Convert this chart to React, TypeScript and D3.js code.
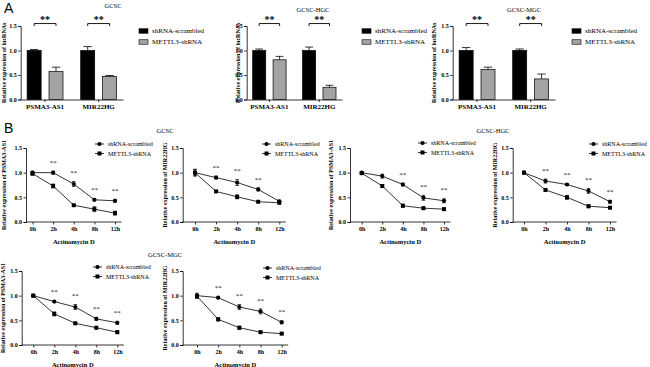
import React, { useRef, useEffect } from 'react'
import * as d3 from 'd3'

// ---- data ----
const genes = ['PSMA3-AS1', 'MIR22HG']
const seriesNames = ['shRNA-scrambled', 'METTL3-shRNA']
const yTicks = [0, 0.5, 1.0, 1.5]

const barTitles = ['GCSC', 'GCSC-HGC', 'GCSC-MGC']
const scrambledBar = [[1.0, 1.0], [1.0, 1.0], [1.0, 1.0]]
const scrambledBarErr = [[0.02, 0.08], [0.03, 0.07], [0.06, 0.03]]
const mettlBar = [[0.57, 0.47], [0.81, 0.25], [0.61, 0.42]]
const mettlBarErr = [[0.09, 0.02], [0.07, 0.04], [0.05, 0.1]]

const timeLabels = ['0h', '2h', '4h', '8h', '12h']
const lineGenes = ['PSMA3-AS1', 'MIR22HG', 'PSMA3-AS1', 'MIR22HG', 'PSMA3-AS1', 'MIR22HG']
const lineTitles = ['GCSC', 'GCSC-HGC', 'GCSC-MGC']
const scrambledLine = [
  [1.0, 1.0, 0.77, 0.45, 0.43],
  [1.0, 0.9, 0.8, 0.66, 0.42],
  [1.0, 0.93, 0.76, 0.49, 0.43],
  [1.0, 0.83, 0.76, 0.63, 0.41],
  [1.0, 0.88, 0.77, 0.53, 0.45],
  [1.0, 0.96, 0.77, 0.68, 0.46],
]
const scrambledLineErr = [
  [0.03, 0.03, 0.05, 0.02, 0.03],
  [0.07, 0.03, 0.06, 0.03, 0.02],
  [0.02, 0.04, 0.03, 0.05, 0.04],
  [0.02, 0.04, 0.02, 0.05, 0.03],
  [0.02, 0.02, 0.05, 0.03, 0.03],
  [0.05, 0.02, 0.05, 0.05, 0.03],
]
const mettlLine = [
  [0.98, 0.73, 0.34, 0.26, 0.18],
  [1.0, 0.62, 0.51, 0.41, 0.39],
  [0.99, 0.73, 0.33, 0.28, 0.26],
  [1.0, 0.65, 0.5, 0.32, 0.29],
  [1.0, 0.63, 0.44, 0.35, 0.26],
  [0.99, 0.52, 0.35, 0.26, 0.23],
]
const mettlLineErr = [
  [0.03, 0.04, 0.02, 0.05, 0.04],
  [0.06, 0.02, 0.04, 0.01, 0.02],
  [0.02, 0.03, 0.03, 0.02, 0.02],
  [0.02, 0.02, 0.04, 0.03, 0.02],
  [0.02, 0.04, 0.02, 0.02, 0.03],
  [0.04, 0.03, 0.03, 0.02, 0.02],
]
// time points marked "**"
const lineSig = [
  ['2h', '4h', '8h', '12h'],
  ['2h', '4h', '8h'],
  ['4h', '8h', '12h'],
  ['2h', '4h', '8h', '12h'],
  ['2h', '4h', '8h', '12h'],
  ['2h', '4h', '8h', '12h'],
]

// ---- layout ----
const serif = '"Liberation Serif", "Times New Roman", serif'
const grey = '#a3a3a3'

const barLayout = [
  { x0: 20.7, x1: 123, yTop: 26, yBot: 99.5, labX: 4, legX: 139, title: [113, 6] },
  { x0: 246.7, x1: 342, yTop: 26, yBot: 99.5, labX: 237.5, legX: 362, title: [313, 9.5] },
  { x0: 452.7, x1: 555, yTop: 26, yBot: 99.5, labX: 434, legX: 572, title: [524, 9.5] },
]
const lineLayout = [
  { x0: 26, p0: 32.5, p1: 115, yTop: 148, yBot: 222, labX: 4, legX: 95, legY: 144 },
  { x0: 182.7, p0: 195, p1: 279.3, yTop: 148, yBot: 222, labX: 164.5, legX: 262, legY: 144 },
  { x0: 350, p0: 361.7, p1: 444, yTop: 148, yBot: 222, labX: 331, legX: 418, legY: 143 },
  { x0: 512.7, p0: 524, p1: 610, yTop: 148, yBot: 222, labX: 495, legX: 589, legY: 144 },
  { x0: 21.7, p0: 33.3, p1: 117.3, yTop: 271, yBot: 345, labX: 3, legX: 93, legY: 267 },
  { x0: 182.7, p0: 197, p1: 281.7, yTop: 271, yBot: 345, labX: 165, legX: 263, legY: 268 },
]
const lineTitlePos = [[165, 131], [493, 131], [165, 255]]

function styleAxis(g, size, bold = true) {
  g.selectAll('path, line').attr('stroke', '#000').attr('stroke-width', 0.8)
  g.selectAll('text')
    .attr('font-family', serif)
    .attr('font-size', size)
    .attr('font-weight', bold ? 'bold' : 'normal')
    .attr('fill', '#000')
}

function yLabel(svg, x, y, text) {
  svg.append('text')
    .attr('transform', `translate(${x},${y}) rotate(-90)`)
    .attr('text-anchor', 'middle')
    .attr('dy', '0.35em')
    .attr('font-family', serif)
    .attr('font-size', 6)
    .attr('font-weight', 'bold')
    .text(text)
}

function drawBarPanel(svg, i) {
  const lay = barLayout[i]
  const g = svg.append('g')
  const y = d3.scaleLinear().domain([0, 1.5]).range([lay.yBot, lay.yTop])
  const x = d3.scaleBand().domain(genes).range([lay.x0, lay.x1]).paddingInner(0.33).paddingOuter(0.12)
  const xs = d3.scaleBand().domain(seriesNames).range([0, x.bandwidth()]).paddingInner(0.36)

  g.append('g').attr('transform', `translate(${lay.x0},0)`)
    .call(d3.axisLeft(y).tickValues(yTicks).tickFormat(d3.format('.1f')).tickSize(2.5).tickPadding(1.5))
    .call(a => styleAxis(a, 6))
  g.append('g').attr('transform', `translate(0,${lay.yBot})`)
    .call(d3.axisBottom(x).tickSize(2.5).tickSizeOuter(0).tickPadding(2.5))
    .call(a => styleAxis(a, 7))

  const rows = genes.flatMap((gene, j) => [
    { gene, s: seriesNames[0], v: scrambledBar[i][j], e: scrambledBarErr[i][j], fill: '#000' },
    { gene, s: seriesNames[1], v: mettlBar[i][j], e: mettlBarErr[i][j], fill: grey },
  ])
  const cap = xs.bandwidth() * 0.3
  rows.forEach(d => {
    const cx = x(d.gene) + xs(d.s) + xs.bandwidth() / 2
    g.append('line').attr('x1', cx).attr('x2', cx).attr('y1', y(d.v)).attr('y2', y(d.v + d.e))
      .attr('stroke', '#000').attr('stroke-width', 0.8)
    g.append('line').attr('x1', cx - cap).attr('x2', cx + cap).attr('y1', y(d.v + d.e)).attr('y2', y(d.v + d.e))
      .attr('stroke', '#000').attr('stroke-width', 0.8)
    g.append('rect')
      .attr('x', x(d.gene) + xs(d.s)).attr('y', y(d.v))
      .attr('width', xs.bandwidth()).attr('height', y(0) - y(d.v))
      .attr('fill', d.fill).attr('stroke', '#000').attr('stroke-width', 0.7)
  })

  // significance brackets
  genes.forEach(gene => {
    const a = x(gene) + xs(seriesNames[0]) + xs.bandwidth() / 2
    const b = x(gene) + xs(seriesNames[1]) + xs.bandwidth() / 2
    const by = y(1.55)
    g.append('path').attr('d', `M${a},${by + 2.5}V${by}H${b}V${by + 2.5}`)
      .attr('fill', 'none').attr('stroke', '#000').attr('stroke-width', 0.9)
    g.append('text').attr('x', (a + b) / 2).attr('y', by - 1)
      .attr('text-anchor', 'middle').attr('font-family', serif).attr('font-weight', 'bold')
      .attr('font-size', 10).text('**')
  })

  yLabel(g, lay.labX, (lay.yTop + lay.yBot) / 2, 'Relative expression of lncRNAs')

  g.append('text').attr('x', lay.title[0]).attr('y', lay.title[1]).attr('dy', '0.35em')
    .attr('text-anchor', 'middle').attr('font-family', serif).attr('font-size', 6.5).text(barTitles[i])

  seriesNames.forEach((s, k) => {
    const ly = 31 + k * 11
    g.append('rect').attr('x', lay.legX).attr('y', ly - 2.25).attr('width', 9).attr('height', 4.5)
      .attr('fill', k === 0 ? '#000' : grey).attr('stroke', '#000').attr('stroke-width', 0.6)
    g.append('text').attr('x', lay.legX + 13).attr('y', ly).attr('dy', '0.35em')
      .attr('font-family', serif).attr('font-size', 7).text(s)
  })
}

function marker(g, kind, cx, cy) {
  if (kind === 0) {
    g.append('circle').attr('cx', cx).attr('cy', cy).attr('r', 2.1).attr('fill', '#000')
  } else {
    g.append('rect').attr('x', cx - 2).attr('y', cy - 2).attr('width', 4).attr('height', 4).attr('fill', '#000')
  }
}

function drawLinePanel(svg, i) {
  const lay = lineLayout[i]
  const g = svg.append('g')
  const y = d3.scaleLinear().domain([0, 1.5]).range([lay.yBot, lay.yTop])
  const x = d3.scalePoint().domain(timeLabels).range([lay.p0, lay.p1])
  const x1 = lay.p1 + 6.5

  g.append('g').attr('transform', `translate(${lay.x0},0)`)
    .call(d3.axisLeft(y).tickValues(yTicks).tickFormat(d3.format('.1f')).tickSize(2.5).tickPadding(1.5))
    .call(a => styleAxis(a, 6))
  g.append('g').attr('transform', `translate(0,${lay.yBot})`)
    .call(d3.axisBottom(x).tickSize(2.5).tickPadding(2.5))
    .call(a => a.select('.domain').remove())
    .call(a => styleAxis(a, 6))
  g.append('line').attr('x1', lay.x0).attr('x2', x1).attr('y1', lay.yBot).attr('y2', lay.yBot)
    .attr('stroke', '#000').attr('stroke-width', 0.8)

  const sets = [
    { vals: scrambledLine[i], errs: scrambledLineErr[i] },
    { vals: mettlLine[i], errs: mettlLineErr[i] },
  ]
  const line = d3.line().x((d, k) => x(timeLabels[k])).y(d => y(d))
  sets.forEach((s, k) => {
    g.append('path').attr('d', line(s.vals)).attr('fill', 'none').attr('stroke', '#000').attr('stroke-width', 0.8)
    s.vals.forEach((v, t) => {
      const cx = x(timeLabels[t])
      const e = s.errs[t]
      g.append('path')
        .attr('d', `M${cx},${y(v - e)}V${y(v + e)}M${cx - 1.8},${y(v - e)}H${cx + 1.8}M${cx - 1.8},${y(v + e)}H${cx + 1.8}`)
        .attr('stroke', '#000').attr('stroke-width', 0.7).attr('fill', 'none')
      marker(g, k, cx, y(v))
    })
  })

  lineSig[i].forEach(t => {
    const k = timeLabels.indexOf(t)
    const top = scrambledLine[i][k] + scrambledLineErr[i][k] + 0.2
    g.append('text').attr('x', x(t)).attr('y', y(top)).attr('dy', '0.5em')
      .attr('text-anchor', 'middle').attr('font-family', serif).attr('font-size', 7)
      .attr('fill', '#222').text('**')
  })

  yLabel(g, lay.labX, (lay.yTop + lay.yBot) / 2, `Relative expression of ${lineGenes[i]}`)

  g.append('text').attr('x', (lay.x0 + x1) / 2).attr('y', lay.yBot + 20).attr('dy', '0.35em')
    .attr('text-anchor', 'middle').attr('font-family', serif).attr('font-size', 6.5)
    .attr('font-weight', 'bold').text('Actinomycin D')

  seriesNames.forEach((s, k) => {
    const ly = lay.legY + k * 9.5
    g.append('line').attr('x1', lay.legX).attr('x2', lay.legX + 9).attr('y1', ly).attr('y2', ly)
      .attr('stroke', '#000').attr('stroke-width', 0.8)
    marker(g, k, lay.legX + 4.5, ly)
    g.append('text').attr('x', lay.legX + 13).attr('y', ly).attr('dy', '0.35em')
      .attr('font-family', serif).attr('font-size', 6).text(s)
  })
}

function App() {
  const svgRef = useRef(null)

  useEffect(() => {
    const svg = d3.select(svgRef.current)
    svg.selectAll('*').remove()
    svg.append('rect').attr('width', 650).attr('height', 367).attr('fill', '#fff')

    barTitles.forEach((_, i) => drawBarPanel(svg, i))
    lineGenes.forEach((_, i) => drawLinePanel(svg, i))

    lineTitles.forEach((t, i) => {
      svg.append('text').attr('x', lineTitlePos[i][0]).attr('y', lineTitlePos[i][1]).attr('dy', '0.35em')
        .attr('text-anchor', 'middle').attr('font-family', serif).attr('font-size', 6.5).text(t)
    })

    const panelLetter = (txt, px, py) => svg.append('text').attr('x', px).attr('y', py)
      .attr('font-family', '"Liberation Sans", Arial, sans-serif').attr('font-size', 14).text(txt)
    panelLetter('A', 4, 13)
    panelLetter('B', 4, 133)
  }, [])

  return (
    <svg ref={svgRef} width={650} height={367}
      style={{ position: 'absolute', left: 0, top: 0, display: 'block' }}></svg>
  )
}

export default App
